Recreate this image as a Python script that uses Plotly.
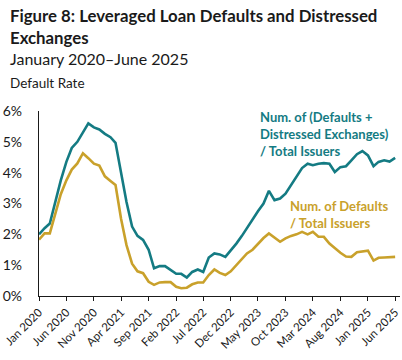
import pandas as pd
import plotly.graph_objects as go

# Monthly dates Jan 2020 - Jun 2025
months = pd.date_range("2020-01-01", "2025-06-01", freq="MS")

# Num. of (Defaults + Distressed Exchanges) / Total Issuers, %
total_rate = [
    2.00, 2.20, 2.35, 3.05, 3.75, 4.35, 4.80, 5.00, 5.30, 5.60,
    5.47, 5.40, 5.26, 5.15, 4.97, 4.00, 3.05, 2.25, 1.95, 1.82,
    1.50, 0.90, 0.97, 0.97, 0.85, 0.72, 0.72, 0.60, 0.78, 0.86,
    0.78, 1.25, 1.38, 1.35, 1.27, 1.47, 1.70, 1.95, 2.20, 2.50,
    2.75, 3.00, 3.41, 3.11, 3.16, 3.32, 3.60, 3.90, 4.15, 4.29,
    4.24, 4.29, 4.31, 4.29, 4.02, 4.18, 4.21, 4.40, 4.60, 4.70,
    4.56, 4.21, 4.35, 4.40, 4.36, 4.48,
]

# Num. of Defaults / Total Issuers, %
default_rate = [
    1.83, 2.03, 2.03, 2.70, 3.30, 3.75, 4.10, 4.30, 4.63, 4.47,
    4.29, 4.23, 3.88, 3.73, 3.60, 2.50, 1.65, 1.05, 0.80, 0.74,
    0.46, 0.36, 0.44, 0.45, 0.45, 0.30, 0.25, 0.27, 0.38, 0.44,
    0.44, 0.68, 0.86, 0.75, 0.68, 0.80, 1.00, 1.20, 1.38, 1.50,
    1.70, 1.88, 2.03, 1.88, 1.76, 1.87, 1.95, 2.00, 2.08, 2.00,
    2.08, 1.92, 1.92, 1.70, 1.55, 1.40, 1.28, 1.27, 1.42, 1.45,
    1.47, 1.15, 1.24, 1.25, 1.25, 1.27,
]

tick_dates = months[::5]
tick_labels = [d.strftime("%b %Y") for d in tick_dates]
y_ticks = [0, 1, 2, 3, 4, 5, 6]
y_labels = [f"{v}%" for v in y_ticks]

TEAL = "#147B83"
GOLD = "#C9A12B"
FONT = "Lato"

L, R, T, B = 39, 2, 111, 64
W, H = 402, 360
PW, PH = W - L - R, H - T - B

fig = go.Figure()
fig.add_trace(go.Scatter(x=months, y=total_rate, mode="lines",
                         line=dict(color=TEAL, width=2.6), hoverinfo="skip"))
fig.add_trace(go.Scatter(x=months, y=default_rate, mode="lines",
                         line=dict(color=GOLD, width=2.6), hoverinfo="skip"))

fig.update_layout(
    width=W, height=H,
    margin=dict(l=L, r=R, t=T, b=B, autoexpand=False),
    paper_bgcolor="white", plot_bgcolor="white",
    showlegend=False,
    font=dict(family=FONT, color="#1a1a1a"),
    xaxis=dict(
        type="date", automargin=False,
        range=["2020-01-01", "2025-06-28"],
        tickvals=tick_dates, ticktext=tick_labels,
        tickangle=-45, tickfont=dict(size=11.5, family=FONT, color="#1a1a1a"),
        showgrid=False, zeroline=False,
        showline=True, linecolor="#1a1a1a", linewidth=1.3,
        ticks="outside", ticklen=4, tickcolor="#1a1a1a", tickwidth=1,
    ),
    yaxis=dict(
        range=[0, 6], automargin=False,
        tickvals=y_ticks, ticktext=y_labels,
        tickfont=dict(size=14, family=FONT, color="#1a1a1a"),
        showgrid=False, zeroline=False,
        showline=True, linecolor="#1a1a1a", linewidth=1.3,
        ticks="", ticklabelstandoff=13,
    ),
)


def px_x(x):
    return (x - L) / PW


def px_y(y):
    return 1 - (y - T) / PH


ann = [
    dict(text="<b>Figure 8: Leveraged Loan Defaults and Distressed</b>", x=8, y=15, size=16.8),
    dict(text="<b>Exchanges</b>", x=8, y=37, size=16.8),
    dict(text="January 2020\u2013June 2025", x=8, y=58, size=16),
    dict(text="Default Rate", x=8, y=83, size=13.5),
]
for a in ann:
    fig.add_annotation(text=a["text"], xref="paper", yref="paper",
                       x=px_x(a["x"]), y=px_y(a["y"]),
                       xanchor="left", yanchor="middle", showarrow=False,
                       font=dict(size=a["size"], family=FONT, color="#1a1a1a"))

fig.add_annotation(text="<b>Num. of (Defaults +<br>Distressed Exchanges)<br>/ Total Issuers</b>",
                   xref="paper", yref="paper", x=px_x(258), y=px_y(107),
                   xanchor="left", yanchor="top", align="left", showarrow=False,
                   font=dict(size=13, family=FONT, color=TEAL))
fig.add_annotation(text="<b>Num. of Defaults<br>/ Total Issuers</b>",
                   xref="paper", yref="paper", x=px_x(288), y=px_y(196),
                   xanchor="left", yanchor="top", align="left", showarrow=False,
                   font=dict(size=13, family=FONT, color=GOLD))

fig.write_html("out.html",
               config={"displayModeBar": False},
               post_script="document.body.style.margin='0';document.body.style.padding='0';")
